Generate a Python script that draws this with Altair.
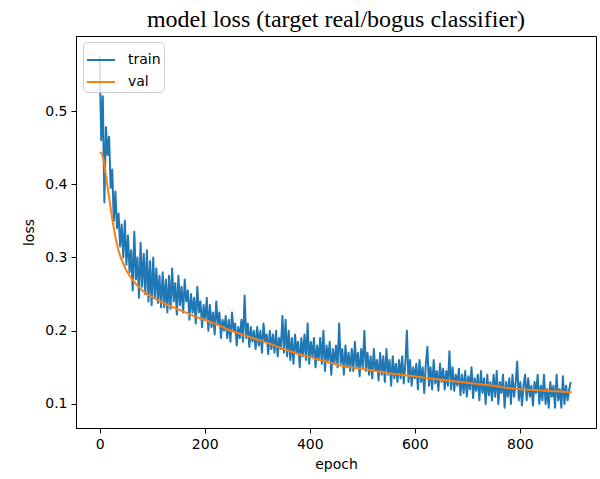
import altair as alt
import pandas as pd

# training loss, read every 3 epochs
train_epochs = list(range(0, 900, 3))
train_loss = [
    0.575, 0.46, 0.52, 0.375, 0.478, 0.44, 0.465, 0.395, 0.42, 0.35,
    0.39, 0.34, 0.36, 0.315, 0.345, 0.30, 0.35, 0.29, 0.33, 0.28,
    0.31, 0.255, 0.335, 0.27, 0.30, 0.245, 0.32, 0.26, 0.305, 0.25,
    0.31, 0.24, 0.295, 0.235, 0.30, 0.245, 0.285, 0.238, 0.275, 0.232,
    0.28, 0.232, 0.27, 0.225, 0.275, 0.23, 0.285, 0.24, 0.265, 0.222,
    0.275, 0.235, 0.26, 0.225, 0.27, 0.24, 0.255, 0.215, 0.25, 0.225,
    0.245, 0.21, 0.26, 0.225, 0.24, 0.205, 0.235, 0.215, 0.245, 0.20,
    0.235, 0.205, 0.225, 0.195, 0.24, 0.21, 0.225, 0.19, 0.215, 0.20,
    0.22, 0.19, 0.215, 0.185, 0.225, 0.20, 0.21, 0.18, 0.205, 0.19,
    0.215, 0.185, 0.248, 0.19, 0.21, 0.178, 0.205, 0.185, 0.20, 0.175,
    0.205, 0.18, 0.20, 0.17, 0.21, 0.185, 0.195, 0.168, 0.20, 0.175,
    0.195, 0.17, 0.20, 0.165, 0.19, 0.175, 0.22, 0.17, 0.215, 0.165,
    0.20, 0.16, 0.19, 0.155, 0.195, 0.17, 0.185, 0.15, 0.19, 0.165,
    0.195, 0.16, 0.21, 0.155, 0.185, 0.165, 0.19, 0.15, 0.18, 0.16,
    0.19, 0.155, 0.20, 0.145, 0.18, 0.16, 0.185, 0.14, 0.175, 0.155,
    0.18, 0.15, 0.21, 0.155, 0.175, 0.14, 0.18, 0.15, 0.17, 0.145,
    0.175, 0.145, 0.185, 0.15, 0.17, 0.138, 0.175, 0.15, 0.20, 0.145,
    0.17, 0.14, 0.165, 0.135, 0.175, 0.145, 0.16, 0.132, 0.17, 0.14,
    0.165, 0.13, 0.175, 0.14, 0.16, 0.125, 0.165, 0.135, 0.155, 0.13,
    0.16, 0.135, 0.165, 0.128, 0.155, 0.20, 0.13, 0.16, 0.125, 0.15,
    0.135, 0.155, 0.12, 0.16, 0.13, 0.15, 0.115, 0.155, 0.178, 0.125,
    0.15, 0.12, 0.16, 0.128, 0.145, 0.118, 0.155, 0.13, 0.148, 0.12,
    0.145, 0.125, 0.172, 0.12, 0.15, 0.118, 0.14, 0.125, 0.148, 0.112,
    0.14, 0.115, 0.145, 0.11, 0.138, 0.12, 0.15, 0.108, 0.135, 0.118,
    0.14, 0.105, 0.145, 0.115, 0.135, 0.10, 0.14, 0.112, 0.13, 0.105,
    0.14, 0.11, 0.145, 0.10, 0.13, 0.115, 0.14, 0.095, 0.13, 0.11,
    0.135, 0.10, 0.14, 0.11, 0.128, 0.158, 0.105, 0.13, 0.098, 0.125,
    0.14, 0.105, 0.135, 0.11, 0.125, 0.098, 0.13, 0.115, 0.14, 0.10,
    0.125, 0.105, 0.14, 0.10, 0.12, 0.095, 0.13, 0.11, 0.125, 0.095,
    0.14, 0.105, 0.12, 0.095, 0.138, 0.10, 0.125, 0.105, 0.12, 0.13,
]

val_epochs = [0, 4, 8, 12, 16, 20, 25, 30, 35, 40, 50, 60, 70, 80, 90, 100,
              120, 140, 160, 180, 200, 225, 250, 275, 300, 325, 350, 375,
              400, 425, 450, 475, 500, 525, 550, 575, 600, 625, 650, 675,
              700, 725, 750, 775, 800, 825, 850, 875, 899]
val_loss = [0.444, 0.442, 0.432, 0.412, 0.392, 0.372, 0.348, 0.328, 0.312,
            0.300, 0.283, 0.272, 0.263, 0.256, 0.250, 0.246, 0.238, 0.232,
            0.226, 0.220, 0.215, 0.208, 0.200, 0.194, 0.188, 0.182, 0.175,
            0.169, 0.164, 0.159, 0.154, 0.150, 0.148, 0.145, 0.142, 0.140,
            0.138, 0.135, 0.133, 0.131, 0.129, 0.127, 0.125, 0.122, 0.120,
            0.119, 0.118, 0.117, 0.116]

x_ticks = [0, 200, 400, 600, 800]
y_ticks = [0.1, 0.2, 0.3, 0.4, 0.5]

train_df = pd.DataFrame({"epoch": train_epochs, "loss": train_loss, "series": "train"})
val_df = pd.DataFrame({"epoch": val_epochs, "loss": val_loss, "series": "val"})

FONT = "DejaVu Sans"

x = alt.X("epoch:Q",
          scale=alt.Scale(domain=[-45, 945], nice=False, zero=False),
          axis=alt.Axis(values=x_ticks, title="epoch", grid=False, format="d",
                        labelFont=FONT, labelFontSize=14, titleFont=FONT,
                        titleFontSize=14, titleFontWeight="normal",
                        labelColor="black", titleColor="black",
                        domainColor="black", tickColor="black", tickSize=5,
                        labelPadding=4, titlePadding=6))
y = alt.Y("loss:Q",
          scale=alt.Scale(domain=[0.0672, 0.6024], nice=False, zero=False),
          axis=alt.Axis(values=y_ticks, title="loss", grid=False, format=".1f",
                        labelFont=FONT, labelFontSize=14, titleFont=FONT,
                        titleFontSize=14, titleFontWeight="normal",
                        labelColor="black", titleColor="black",
                        domainColor="black", tickColor="black", tickSize=5,
                        labelPadding=4, titlePadding=8))

color = alt.Color("series:N",
                  scale=alt.Scale(domain=["train", "val"], range=["#1f77b4", "#ff7f0e"]),
                  legend=alt.Legend(title=None, orient="none", legendX=7, legendY=6,
                                    symbolType="stroke", symbolSize=784,
                                    symbolStrokeWidth=2, labelFont=FONT,
                                    labelFontSize=14, labelColor="black",
                                    fillColor="rgba(255,255,255,0.8)",
                                    strokeColor="#cccccc", cornerRadius=4,
                                    padding=3, rowPadding=-5, labelOffset=12))

train = alt.Chart(train_df).mark_line(strokeWidth=2, strokeJoin="round").encode(x=x, y=y, color=color)
val = alt.Chart(val_df).mark_line(strokeWidth=2, strokeJoin="round").encode(x=x, y=y, color=color)

chart = alt.layer(train, val).properties(
    width=520, height=392,
    title=alt.TitleParams("model loss (target real/bogus classifier)",
                          font="Liberation Serif", fontSize=24,
                          fontWeight="normal", color="black",
                          anchor="middle", baseline="alphabetic", offset=9, dy=24),
    autosize=alt.AutoSizeParams(type="none"),
    padding={"left": 76, "top": 36, "right": 4, "bottom": 51},
    background="white",
).configure_view(stroke="black", strokeWidth=1)

chart.save("out.html", embed_options={"renderer": "svg", "actions": False})
